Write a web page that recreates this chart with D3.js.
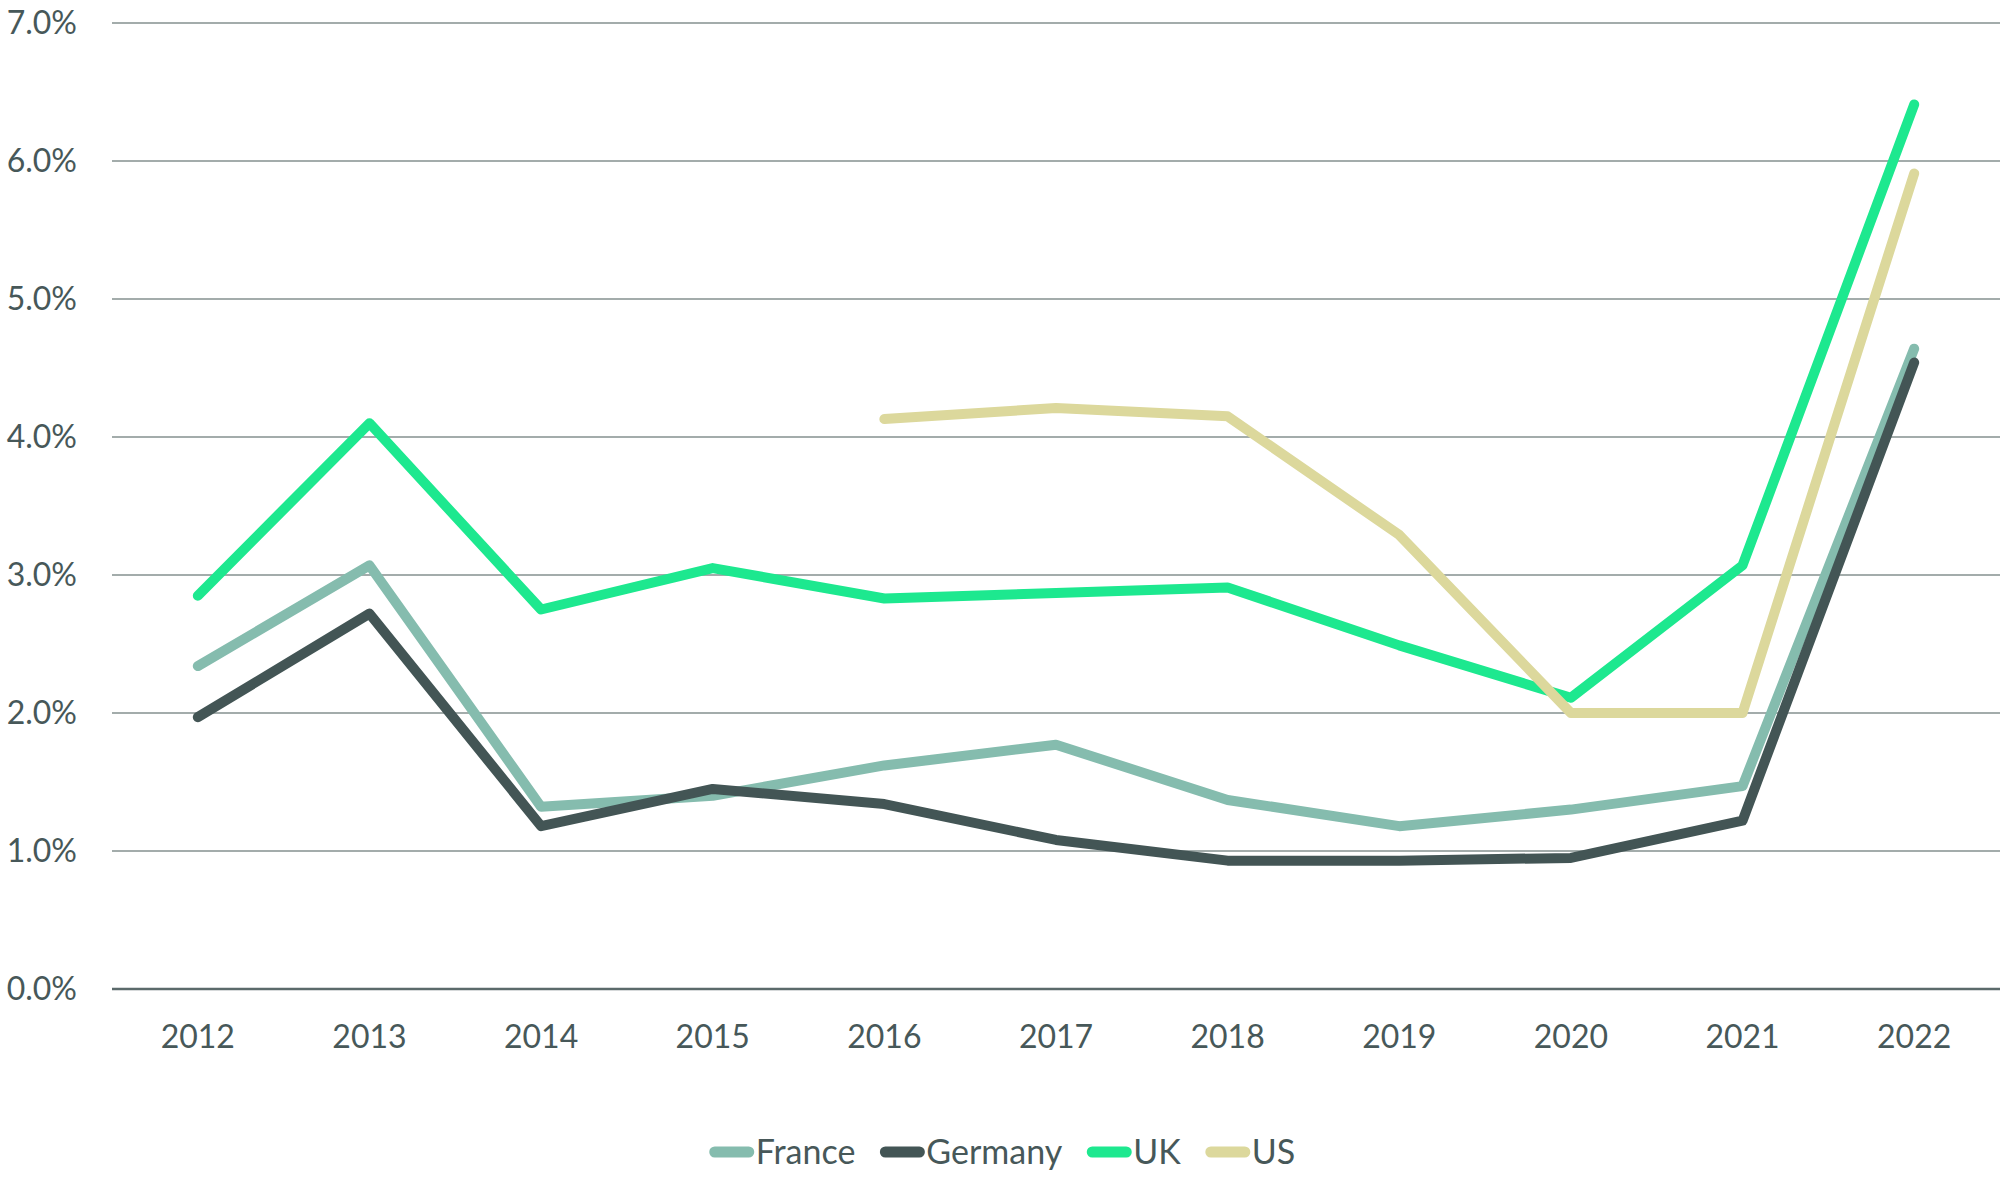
<!DOCTYPE html>
<html>
<head>
<meta charset="utf-8">
<script src="https://cdn.jsdelivr.net/npm/d3@7"></script>
<style>
  body { margin: 0; background: #fff; }
  text { font-family: Lato, "Noto Sans", sans-serif; fill: #475859; }
</style>
</head>
<body>
<div id="my_dataviz"></div>
<script>

// data
var years = ["2012","2013","2014","2015","2016","2017","2018","2019","2020","2021","2022"]
var france  = [2.34, 3.07, 1.32, 1.40, 1.62, 1.77, 1.37, 1.18, 1.30, 1.47, 4.64]
var germany = [1.97, 2.72, 1.18, 1.45, 1.34, 1.08, 0.93, 0.93, 0.95, 1.22, 4.54]
var uk      = [2.85, 4.10, 2.75, 3.05, 2.83, 2.87, 2.91, 2.49, 2.11, 3.07, 6.41]
var us      = [null, null, null, null, 4.13, 4.21, 4.15, 3.29, 2.00, 2.00, 5.91]
var yTicks  = [0, 1, 2, 3, 4, 5, 6, 7]

var seriesNames  = ["France", "Germany", "UK", "US"]
var seriesValues = [france, germany, uk, us]
var seriesColors = ["#85bcae", "#435555", "#1de88f", "#dcd89c"]

// set the dimensions and margins of the graph
var margin = {top: 23, right: 0, bottom: 190, left: 112},
    width = 2000 - margin.left - margin.right,
    height = 1179 - margin.top - margin.bottom;

var svg = d3.select("#my_dataviz")
  .append("svg")
    .attr("width", 2000)
    .attr("height", 1179)
  .append("g")
    .attr("transform", "translate(" + margin.left + "," + margin.top + ")");

// X scale
var x = d3.scalePoint()
  .domain(years)
  .range([0, width])
  .padding(0.5);

// Y scale
var y = d3.scaleLinear()
  .domain([0, 7])
  .range([height, 0]);

// gridlines
svg.append("g")
  .selectAll("line")
  .data(yTicks)
  .enter().append("line")
    .attr("x1", 0)
    .attr("x2", width)
    .attr("y1", function(d) { return y(d) })
    .attr("y2", function(d) { return y(d) })
    .attr("stroke", function(d) { return d === 0 ? "#5b6a6b" : "#85908f" })
    .attr("stroke-width", function(d) { return d === 0 ? 2.5 : 1.6 });

// y labels
svg.append("g")
  .selectAll("text")
  .data(yTicks)
  .enter().append("text")
    .attr("x", -35)
    .attr("y", function(d) { return y(d) })
    .attr("dy", "0.35em")
    .attr("text-anchor", "end")
    .style("font-size", "32px")
    .text(function(d) { return d3.format(".1f")(d) + "%" });

// x labels
svg.append("g")
  .selectAll("text")
  .data(years)
  .enter().append("text")
    .attr("x", function(d) { return x(d) })
    .attr("y", height + 48)
    .attr("dy", "0.35em")
    .attr("text-anchor", "middle")
    .style("font-size", "32px")
    .text(function(d) { return d });

// lines
var line = d3.line()
  .defined(function(d) { return d[1] !== null })
  .x(function(d) { return x(d[0]) })
  .y(function(d) { return y(d[1]) });

seriesValues.forEach(function(vals, i) {
  svg.append("path")
    .datum(years.map(function(yr, j) { return [yr, vals[j]] }))
    .attr("fill", "none")
    .attr("stroke", seriesColors[i])
    .attr("stroke-width", 10)
    .attr("stroke-linecap", "round")
    .attr("stroke-linejoin", "round")
    .attr("d", line);
});

// legend
var legend = d3.select("svg").append("g");
var lx = 0;
seriesNames.forEach(function(name, i) {
  var item = legend.append("g").attr("transform", "translate(" + lx + ",0)");
  item.append("line")
    .attr("x1", 6).attr("x2", 40)
    .attr("y1", 0).attr("y2", 0)
    .attr("stroke", seriesColors[i])
    .attr("stroke-width", 11)
    .attr("stroke-linecap", "round");
  var t = item.append("text")
    .attr("x", 47)
    .attr("y", 0)
    .attr("dy", "0.35em")
    .style("font-size", "34px")
    .text(name);
  lx += 47 + t.node().getComputedTextLength() + 24;
});
lx -= 24;
legend.attr("transform", "translate(" + (1002 - lx / 2) + ",1152)");

</script>
</body>
</html>
